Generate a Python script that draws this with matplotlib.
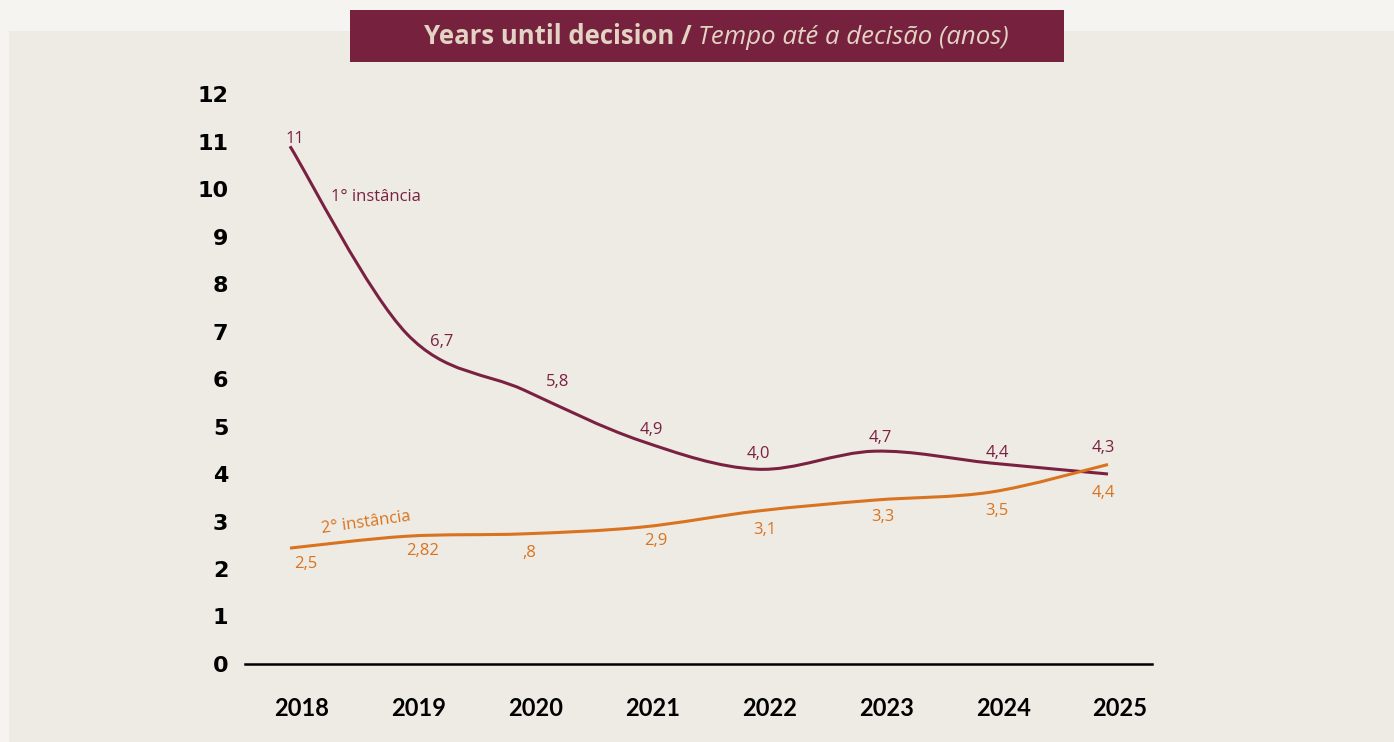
import numpy as np
import matplotlib
matplotlib.use("Agg")
import matplotlib.pyplot as plt
from matplotlib.path import Path
from matplotlib.patches import PathPatch, Rectangle
from matplotlib.text import Annotation
from matplotlib.transforms import ScaledTranslation


# ============================================================
# Data
# ============================================================

YEARS = ["2018", "2019", "2020", "2021", "2022", "2023", "2024", "2025"]

# values as drawn by the curves
FIRST_INSTANCE = [10.9, 6.95, 5.77, 4.7, 4.1, 4.48, 4.23, 4.0]
SECOND_INSTANCE = [2.44, 2.69, 2.74, 2.88, 3.22, 3.45, 3.62, 4.2]

# value labels as printed on the chart
FIRST_LABELS = ["11", "6,7", "5,8", "4,9", "4,0", "4,7", "4,4", "4,3"]
SECOND_LABELS = ["2,5", "2,82", ",8", "2,9", "3,1", "3,3", "3,5", "4,4"]

Y_TICKS = list(range(0, 13))

# label positions relative to each point, pixels (layout only)
FIRST_OFFSETS = [(5, 7), (35, -8), (34, 8), (11, 11), (1, 15), (6, 13), (6, 10), (-5, 26)]
SECOND_OFFSETS = [(16, -16), (16, -15), (6, -19), (15, -14), (7, -19), (9, -17), (6, -19), (-5, -28)]

PURPLE = "#7a2142"
ORANGE = "#d9731f"
TITLE_BG = "#76223f"
TITLE_FG = "#e3d3c3"
OUTER_BG = "#f5f4f0"
PANEL_BG = "#eeebe5"

W, H = 1394, 742


def smooth_path(xs, ys):
    """Catmull-Rom style smoothing drawn as cubic Bezier segments."""
    pts = np.column_stack([xs, ys]).astype(float)
    n = len(pts)
    verts = [pts[0]]
    codes = [Path.MOVETO]
    for i in range(n - 1):
        p0 = pts[i - 1] if i > 0 else pts[i]
        p1 = pts[i]
        p2 = pts[i + 1]
        p3 = pts[i + 2] if i + 2 < n else pts[i + 1]
        c1 = p1 + (p2 - p0) / 6.0
        c2 = p2 - (p3 - p1) / 6.0
        verts += [c1, c2, p2]
        codes += [Path.CURVE4] * 3
    return Path(verts, codes)


def main():
    fig = plt.figure(figsize=(W / 100, H / 100), dpi=100)
    fig.patch.set_facecolor(OUTER_BG)

    # background panel
    fig.patches.append(Rectangle((9 / W, 0), 1, 1 - 31 / H, transform=fig.transFigure,
                                 facecolor=PANEL_BG, edgecolor="none", zorder=-10))
    # title box
    fig.patches.append(Rectangle((350 / W, 1 - 62 / H), 714 / W, 52 / H, transform=fig.transFigure,
                                 facecolor=TITLE_BG, edgecolor="none", zorder=1))
    t1 = fig.text(424 / W, 1 - 36 / H, "Years until decision / ", fontsize=18.5, fontweight="bold",
                  family="Open Sans", color=TITLE_FG, va="center", ha="left", zorder=2)
    fig.add_artist(Annotation("Tempo até a decisão (anos)", xy=(1, 0), xycoords=t1,
                              va="bottom", ha="left", fontsize=18.5, style="italic",
                              family="Open Sans", color=TITLE_FG, zorder=2))

    # axes: y=0 at 664px, 47.5 px per unit; x index 0 at 290px, 7 at 1108px
    left, right = 245, 1152
    y0 = 664
    ymax = 12.4
    top = y0 - ymax * 47.5
    ax = fig.add_axes([left / W, 1 - y0 / H, (right - left) / W, (y0 - top) / H])
    ax.set_facecolor("none")

    step = (1108 - 290) / 7
    ax.set_xlim(-(290 - left) / step, 7 + (right - 1108) / step)
    ax.set_ylim(0, ymax)

    x = np.arange(len(YEARS))

    for vals, color in [(FIRST_INSTANCE, PURPLE), (SECOND_INSTANCE, ORANGE)]:
        ax.add_patch(PathPatch(smooth_path(x, vals), facecolor="none", edgecolor=color,
                               lw=2.2, capstyle="butt", zorder=3))

    for i, (v, lab) in enumerate(zip(FIRST_INSTANCE, FIRST_LABELS)):
        dx, dy = FIRST_OFFSETS[i]
        ax.annotate(lab, (x[i], v), xytext=(dx, dy), textcoords="offset pixels",
                    ha="center", va="center", fontsize=12, family="Open Sans",
                    color=PURPLE, annotation_clip=False)
    for i, (v, lab) in enumerate(zip(SECOND_INSTANCE, SECOND_LABELS)):
        dx, dy = SECOND_OFFSETS[i]
        ax.annotate(lab, (x[i], v), xytext=(dx, dy), textcoords="offset pixels",
                    ha="center", va="center", fontsize=12, family="Open Sans",
                    color=ORANGE, annotation_clip=False)

    # series names
    fig.text(376 / W, 1 - 197 / H, "1° instância", fontsize=12, family="Open Sans",
             color=PURPLE, ha="center", va="center")
    fig.text(366 / W, 1 - 523 / H, "2° instância", fontsize=12, family="Open Sans",
             color=ORANGE, ha="center", va="center", rotation=8, rotation_mode="anchor")

    # axis styling
    for s in ["top", "right", "left"]:
        ax.spines[s].set_visible(False)
    ax.spines["bottom"].set_linewidth(1.8)
    ax.spines["bottom"].set_color("black")

    ax.set_yticks(Y_TICKS)
    ax.set_yticklabels([str(t) for t in Y_TICKS], fontsize=16, fontweight="bold",
                       family="DejaVu Sans")
    ax.set_xticks(x)
    ax.set_xticklabels(YEARS, fontsize=17, fontweight="bold", family="Lato")
    ax.tick_params(axis="y", length=0, pad=12)
    ax.tick_params(axis="x", length=0, pad=24)
    offset = ScaledTranslation(12 / 100, 0, fig.dpi_scale_trans)
    for lbl in ax.get_xticklabels():
        lbl.set_transform(lbl.get_transform() + offset)

    fig.savefig("out.png", dpi=100, facecolor=fig.get_facecolor())
    plt.close(fig)


if __name__ == "__main__":
    main()
